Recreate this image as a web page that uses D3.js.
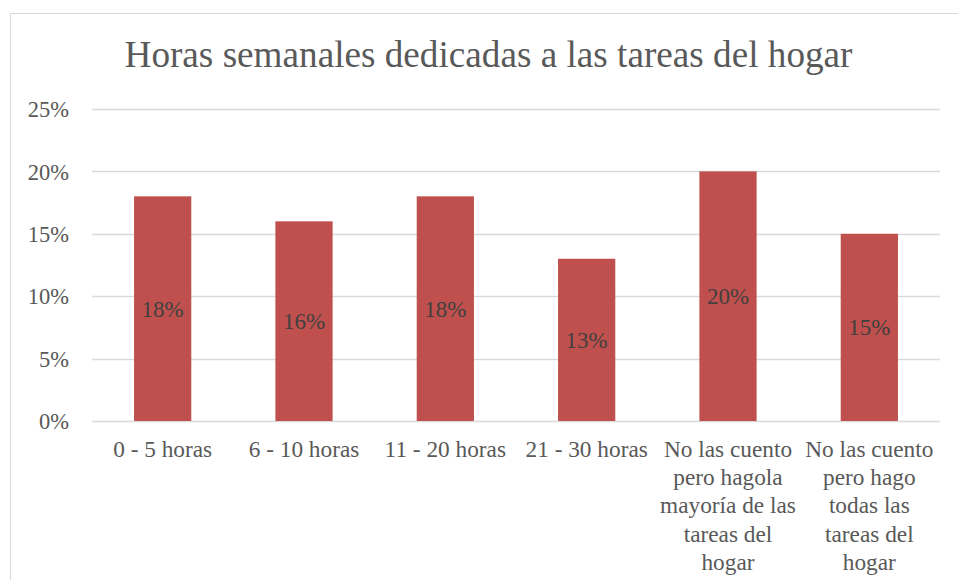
<!DOCTYPE html>
<html>
<head>
<meta charset="utf-8">
<script src="https://cdn.jsdelivr.net/npm/d3@7"></script>
</head>
<body style="margin:0; background:#fff">
<script>
// data
const categories = [
    ["0 - 5 horas"],
    ["6 - 10 horas"],
    ["11 - 20 horas"],
    ["21 - 30 horas"],
    ["No las cuento", "pero hagola", "mayoría de las", "tareas del", "hogar"],
    ["No las cuento", "pero hago", "todas las", "tareas del", "hogar"]
];
const values = [0.18, 0.16, 0.18, 0.13, 0.20, 0.15];
const yTicks = [0, 0.05, 0.10, 0.15, 0.20, 0.25];
const title = "Horas semanales dedicadas a las tareas del hogar";

const FONT = "Liberation Serif";
const width = 958, height = 580;
const margin = {top: 109, right: 18, bottom: 159, left: 92};

const svg = d3.select("body").append("svg")
    .attr("width", width)
    .attr("height", height)
    .style("display", "block");

// chart frame
svg.append("rect")
    .attr("x", 10.5).attr("y", 13.5)
    .attr("width", 1000).attr("height", 700)
    .attr("fill", "none")
    .attr("stroke", "#d9d9d9");

svg.append("text")
    .attr("x", 488.5).attr("y", 67)
    .attr("text-anchor", "middle")
    .style("font-family", FONT)
    .attr("font-size", 37.2)
    .attr("fill", "#595959")
    .text(title);

const x = d3.scaleBand()
    .domain(d3.range(categories.length))
    .range([margin.left, width - margin.right])
    .paddingInner(0.595)
    .paddingOuter(0.2975);

const y = d3.scaleLinear()
    .domain([0, 0.25])
    .range([height - margin.bottom, margin.top]);

// gridlines
svg.append("g")
    .selectAll("line")
    .data(yTicks)
    .join("line")
        .attr("x1", margin.left).attr("x2", width - margin.right)
        .attr("y1", d => Math.round(y(d)) + 0.5)
        .attr("y2", d => Math.round(y(d)) + 0.5)
        .attr("stroke", "#d9d9d9")
        .attr("stroke-width", 1.3);

// y axis labels
const yAxis = svg.append("g")
    .attr("transform", `translate(${margin.left - 23},0)`)
    .call(d3.axisLeft(y).tickValues(yTicks).tickFormat(d3.format(".0%")).tickSize(0).tickPadding(0));
yAxis.select(".domain").remove();
yAxis.selectAll("text")
    .style("font-family", FONT)
    .attr("font-size", 22.5)
    .attr("dy", "0.34em")
    .attr("fill", "#595959");

// bars
svg.append("g")
    .selectAll("rect")
    .data(values)
    .join("rect")
        .attr("x", (d, i) => x(i))
        .attr("y", d => y(d))
        .attr("width", x.bandwidth())
        .attr("height", d => y(0) - y(d))
        .attr("fill", "#c0504d");

// value labels in the middle of each bar
svg.append("g")
    .selectAll("text")
    .data(values)
    .join("text")
        .attr("x", (d, i) => x(i) + x.bandwidth() / 2)
        .attr("y", d => (y(d) + y(0)) / 2)
        .attr("dy", "0.34em")
        .attr("text-anchor", "middle")
        .style("font-family", FONT)
        .attr("font-size", 23)
        .attr("fill", "#404040")
        .text(d3.format(".0%"));

// category labels, wrapped
const xl = svg.append("g")
    .selectAll("text")
    .data(categories)
    .join("text")
        .attr("x", (d, i) => x(i) + x.bandwidth() / 2)
        .attr("y", y(0) + 36)
        .attr("text-anchor", "middle")
        .style("font-family", FONT)
        .attr("font-size", 23.3)
        .attr("fill", "#595959");
xl.selectAll("tspan")
    .data(d => d)
    .join("tspan")
        .attr("x", function() { return this.parentNode.getAttribute("x"); })
        .attr("dy", (d, i) => i == 0 ? 0 : 28.2)
        .text(d => d);
</script>
</body>
</html>
